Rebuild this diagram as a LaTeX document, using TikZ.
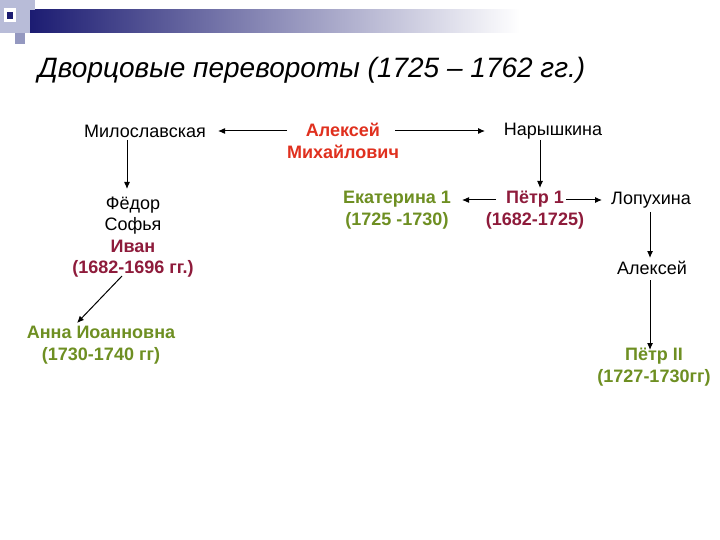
\documentclass[tikz,border=0pt]{standalone}
\usepackage{fontspec}
\setmainfont{Liberation Sans}
\usetikzlibrary{arrows.meta}
\begin{document}
\begin{tikzpicture}[x=1pt,y=-1pt,
  every node/.style={inner sep=1pt,font=\fontsize{18}{21.5}\selectfont,align=center},
  bb/.style={font=\fontsize{18}{21.5}\selectfont\bfseries},
  arr/.style={-{Latex[length=7pt,width=6pt]},line width=1pt,black},
  sq/.style={fill=#1,draw=none}]
\definecolor{cred}{HTML}{E0301E}
\definecolor{cdred}{HTML}{8E1B3B}
\definecolor{cgreen}{HTML}{6E8F22}
\definecolor{navy}{HTML}{1C1C72}
\definecolor{sqc}{HTML}{B8BCD8}
\definecolor{sqd}{HTML}{9498C0}
\useasboundingbox (0,0) rectangle (720,540);
\fill[white] (0,0) rectangle (720,540);
% decoration
\shade[left color=navy,right color=white,draw=none] (30,10) rectangle (520,33);
\fill[sqc] (0,0) rectangle (30,33);
\fill[sqc] (15,0) rectangle (35,10);
\fill[sqd] (15,33) rectangle (25,44);
\fill[white] (4,8) rectangle (16,22);
\fill[navy] (7,12) rectangle (13,19);
% title
\node[anchor=base west,font=\fontsize{28}{32}\selectfont\itshape] (title) at (37,78) {Дворцовые перевороты (1725 – 1762 гг.)};
% nodes
\node (mil) at (145,131) {Милославская};
\node[bb,text=cred] (am) at (343,141) {Алексей\\Михайлович};
\node (nar) at (553,131) {Нарышкина};
\node (fed) at (133,237) {Фёдор\\Софья\\{\bfseries\color{cdred}Иван}\\{\bfseries\color{cdred}(1682-1696 гг.)}};
\node[bb,text=cgreen] (ek) at (397,210) {Екатерина 1\\(1725 -1730)};
\node[bb,text=cdred] (p1) at (535,210) {Пётр 1\\(1682-1725)};
\node (lop) at (651,200) {Лопухина};
\node (al) at (652,268) {Алексей};
\node[bb,text=cgreen] (anna) at (101,345) {Анна Иоанновна\\(1730-1740 гг)};
\node[bb,text=cgreen] (p2) at (654,367) {Пётр II\\(1727-1730гг)};
% connectors
\coordinate (a1) at (287,131); \coordinate (a2) at (218,131);
\draw[arr] (a1) -- (a2);
\coordinate (b1) at (395,131); \coordinate (b2) at (485,131);
\draw[arr] (b1) -- (b2);
\coordinate (m1) at (127,140); \coordinate (m2) at (127,189);
\draw[arr] (m1) -- (m2);
\coordinate (n1) at (540,140); \coordinate (n2) at (540,188);
\draw[arr] (n1) -- (n2);
\coordinate (c1) at (496,200); \coordinate (c2) at (462,200);
\draw[arr] (c1) -- (c2);
\coordinate (d1) at (566,200); \coordinate (d2) at (602,200);
\draw[arr] (d1) -- (d2);
\coordinate (l1) at (650,212); \coordinate (l2) at (650,258);
\draw[arr] (l1) -- (l2);
\coordinate (q1) at (650,280); \coordinate (q2) at (650,350);
\draw[arr] (q1) -- (q2);
\coordinate (e1) at (122,276); \coordinate (e2) at (77,323);
\draw[arr] (e1) -- (e2);
\end{tikzpicture}
\end{document}
